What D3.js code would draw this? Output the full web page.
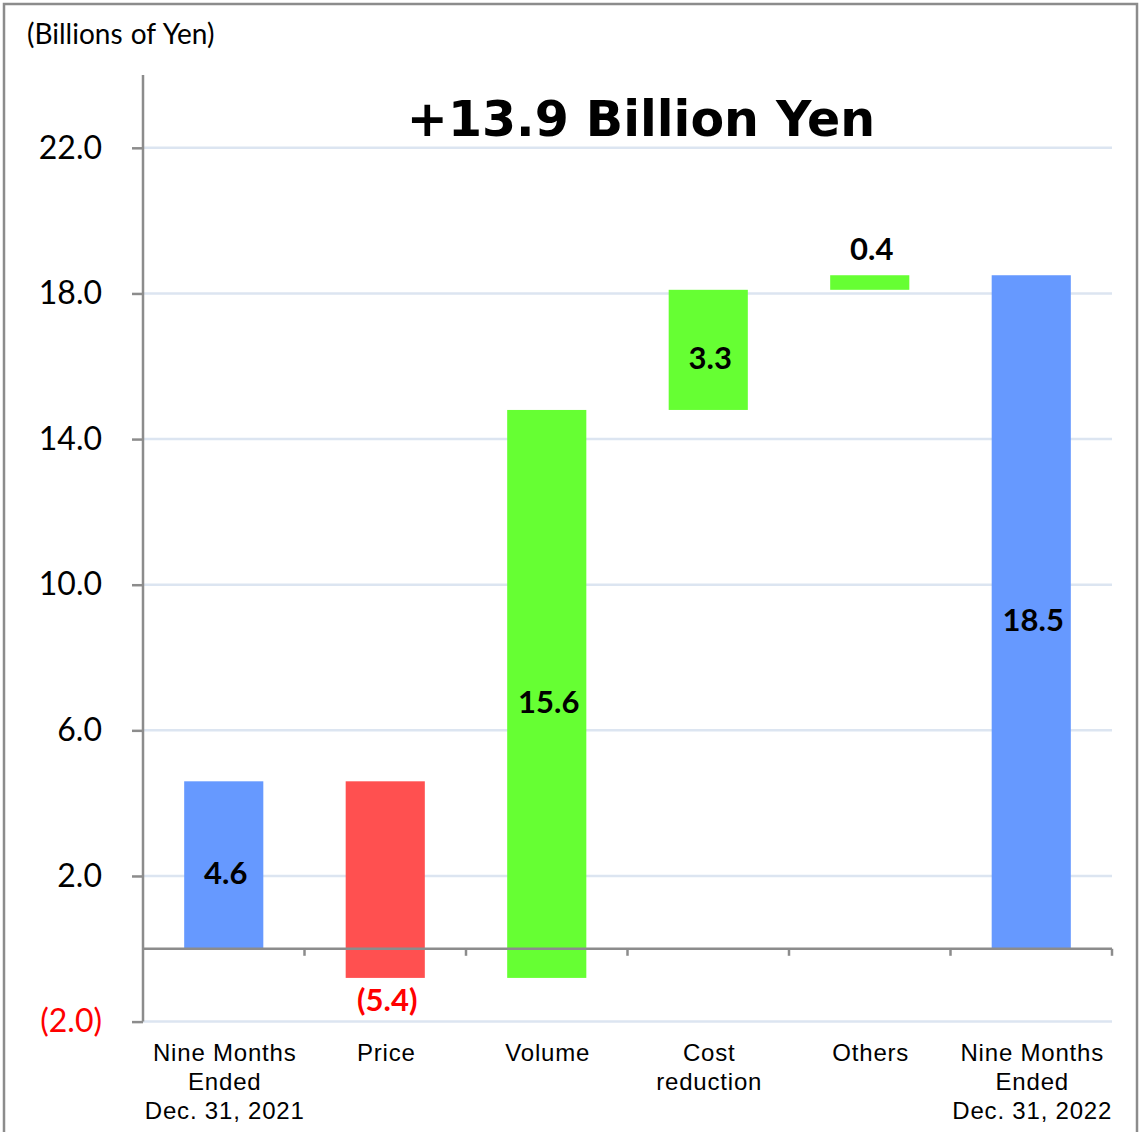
<!DOCTYPE html>
<html>
<head>
<meta charset="utf-8">
<script src="https://cdn.jsdelivr.net/npm/d3@7"></script>
<style>
  body { margin: 0; background: #fff; }
  svg { display: block; }
  .tick-label { font-family: Lato, 'Open Sans', sans-serif; font-size: 32px; }
  .cat-label { font-family: 'Liberation Sans', Arial, sans-serif; font-size: 24px; letter-spacing: 0.8px; }
  .value-label { font-family: Lato, 'Open Sans', sans-serif; font-size: 31px; font-weight: bold; }
</style>
</head>
<body>
<svg width="1140" height="1132"></svg>
<script>
const categories = [
  ['Nine Months', 'Ended', 'Dec. 31, 2021'],
  ['Price'],
  ['Volume'],
  ['Cost', 'reduction'],
  ['Others'],
  ['Nine Months', 'Ended', 'Dec. 31, 2022']
];
const changes = [4.6, -5.4, 15.6, 3.3, 0.4, 18.5];
const barKinds = ['total', 'delta', 'delta', 'delta', 'delta', 'total'];
const valueLabels = ['4.6', '(5.4)', '15.6', '3.3', '0.4', '18.5'];
const yTicks = [-2, 2, 6, 10, 14, 18, 22];
const yTickLabels = ['(2.0)', '2.0', '6.0', '10.0', '14.0', '18.0', '22.0'];
const titleText = '+13.9 Billion Yen';
const unitText = '(Billions of Yen)';

const svg = d3.select('svg');
const width = +svg.attr('width');
const height = +svg.attr('height');

const margin = {top: 75, right: 28, bottom: 110, left: 143};

// running start / end for each waterfall step
let running = 0;
const bars = changes.map((v, i) => {
  let start, end;
  if (barKinds[i] === 'total') {
    start = 0; end = v; running = v;
  } else {
    start = running; end = running + v; running = end;
  }
  return {i, v, start, end, label: valueLabels[i], kind: barKinds[i]};
});

const xScale = d3.scaleBand()
  .domain(d3.range(categories.length))
  .range([margin.left, width - margin.right])
  .paddingInner(0.51)
  .paddingOuter(0.255);

const yScale = d3.scaleLinear()
  .domain([-2, 24])
  .range([1021.6, margin.top]);

const colorOf = d => d.kind === 'total' ? '#6699FF' : (d.v < 0 ? '#FF5050' : '#66FF33');

// frame
svg.append('rect')
  .attr('x', 4).attr('y', 4)
  .attr('width', width - 7).attr('height', height + 10)
  .attr('fill', 'none')
  .attr('stroke', '#8c8c8c')
  .attr('stroke-width', 2.5);

// gridlines
svg.append('g').selectAll('line').data(yTicks)
  .enter().append('line')
    .attr('x1', margin.left).attr('x2', width - margin.right)
    .attr('y1', d => yScale(d)).attr('y2', d => yScale(d))
    .attr('stroke', '#DCE5F1')
    .attr('stroke-width', 2.5);

// bars
svg.append('g').selectAll('rect').data(bars)
  .enter().append('rect')
    .attr('x', d => xScale(d.i))
    .attr('width', xScale.bandwidth())
    .attr('y', d => yScale(Math.max(d.start, d.end)))
    .attr('height', d => Math.abs(yScale(d.start) - yScale(d.end)))
    .attr('fill', colorOf);

// y axis
const yAxis = d3.axisLeft(yScale)
  .tickValues(yTicks)
  .tickFormat((d, i) => yTickLabels[i])
  .tickSize(11)
  .tickPadding(30)
  .tickSizeOuter(0);

const yAxisG = svg.append('g')
  .attr('transform', `translate(${margin.left},0)`)
  .call(yAxis);
yAxisG.select('.domain')
  .attr('d', `M0,${margin.top}V${yScale(-2)}`)
  .attr('stroke', '#8c8c8c').attr('stroke-width', 2.5);
yAxisG.selectAll('.tick line').attr('stroke', '#8c8c8c').attr('stroke-width', 2.5);
yAxisG.selectAll('.tick text')
  .attr('class', 'tick-label')
  .attr('fill', d => d < 0 ? '#FF0000' : '#000')
  .attr('font-family', null).attr('font-size', null);

// zero line with category separators
const zeroY = yScale(0);
svg.append('line')
  .attr('x1', margin.left).attr('x2', width - margin.right)
  .attr('y1', zeroY).attr('y2', zeroY)
  .attr('stroke', '#8c8c8c').attr('stroke-width', 2.5);

const sepX = d3.range(1, categories.length + 1)
  .map(i => xScale(i - 1) + xScale.bandwidth() + xScale.step() * xScale.paddingInner() / 2);
svg.append('g').selectAll('line').data(sepX)
  .enter().append('line')
    .attr('x1', d => d).attr('x2', d => d)
    .attr('y1', zeroY).attr('y2', zeroY + 7)
    .attr('stroke', '#8c8c8c').attr('stroke-width', 2.5);

// category labels
const catG = svg.append('g').selectAll('text').data(categories)
  .enter().append('text')
    .attr('class', 'cat-label')
    .attr('text-anchor', 'middle')
    .attr('x', (d, i) => xScale(i) + xScale.bandwidth() / 2 + 1)
    .attr('y', 1061);
catG.selectAll('tspan').data(d => d)
  .enter().append('tspan')
    .attr('x', function () { return d3.select(this.parentNode).attr('x'); })
    .attr('dy', (d, i) => i === 0 ? 0 : 29)
    .text(d => d);

// value labels
svg.append('g').selectAll('text').data(bars)
  .enter().append('text')
    .attr('class', 'value-label')
    .attr('text-anchor', 'middle')
    .attr('x', d => xScale(d.i) + xScale.bandwidth() / 2 + 2)
    .attr('y', d => {
      if (d.v < 0) return yScale(d.end) + 33;
      if (Math.abs(d.v) < 1) return yScale(d.end) - 15;
      return yScale((d.start + d.end) / 2) + 19;
    })
    .attr('fill', d => d.v < 0 ? '#FF0000' : '#000')
    .text(d => d.label);

// title and unit
svg.append('text')
  .attr('x', 641).attr('y', 136)
  .attr('text-anchor', 'middle')
  .attr('font-family', "'DejaVu Sans', Verdana, sans-serif")
  .attr('font-weight', 'bold')
  .attr('font-size', 49)
  .text(titleText);

svg.append('text')
  .attr('x', 27).attr('y', 44)
  .attr('font-family', "Lato, 'Open Sans', sans-serif")
  .attr('font-size', 28)
  .attr('word-spacing', 1)
  .text(unitText);
</script>
</body>
</html>
